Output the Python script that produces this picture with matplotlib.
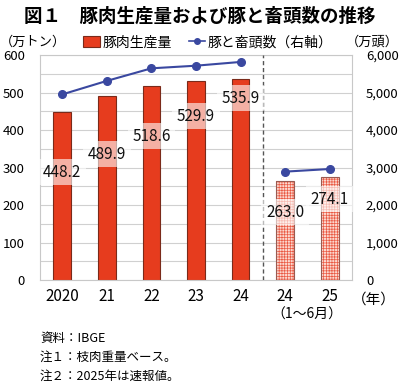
import matplotlib
matplotlib.use("Agg")
import matplotlib.pyplot as plt
import numpy as np

plt.rcParams['font.family'] = ['Noto Sans CJK JP', 'DejaVu Sans']
plt.rcParams['hatch.linewidth'] = 0.5

categories = ["2020", "21", "22", "23", "24", "24", "25"]
production = [448.2, 489.9, 518.6, 529.9, 535.9, 263.0, 274.1]
herd = [4950, 5310, 5645, 5715, 5815, 2890, 2960]
prelim = [False, False, False, False, False, True, True]
label_y = [288, 336, 384, 437, 485, 181, 216]

fig = plt.figure(figsize=(4.0, 3.86), dpi=100)
ax = fig.add_axes([0.10, 0.2746, 0.78, 0.5829])
ax2 = ax.twinx()

x = np.arange(len(categories))
bar_red = '#e63c1e'
edge_dark = '#7a2a1a'
for i in range(len(x)):
    if prelim[i]:
        ax.bar(x[i], production[i], width=0.4, color='#fcd8cf', edgecolor='#ea5a44',
               hatch='++++++', linewidth=0, zorder=2)
        ax.bar(x[i], production[i], width=0.4, fill=False, edgecolor='#9a5a50',
               linewidth=0.8, zorder=3)
    else:
        ax.bar(x[i], production[i], width=0.4, color=bar_red, edgecolor=edge_dark,
               linewidth=0.8, zorder=2)
    ax.text(x[i], label_y[i], f"{production[i]:.1f}", ha='center', va='center',
            fontsize=11, color='#111111', zorder=6,
            bbox=dict(boxstyle='square,pad=0.3', facecolor='white', edgecolor='none', alpha=0.6))

ax.set_xlim(-0.5, 6.5)
ax.set_ylim(0, 600)
ax.set_yticks(np.arange(0, 601, 100))
ax.set_yticks(np.arange(50, 600, 100), minor=True)
ax.grid(axis='y', which='both', color='#d0d0d0', linewidth=0.8, zorder=0)
ax.set_axisbelow(True)
ax.tick_params(axis='y', which='both', length=0, labelsize=9.5, pad=11)
ax.set_xticks(x)
ax.set_xticklabels(categories, fontsize=11)
ax.tick_params(axis='x', length=0, pad=6)
for s in ax.spines.values():
    s.set_color('#c8c8c8')
    s.set_linewidth(0.8)

ax.axvline(4.5, color='#555555', linestyle=(0, (3, 2)), linewidth=1.0, zorder=4)

ax2.plot(x[:5], herd[:5], color='#3a48a0', marker='o', markersize=5.5, linewidth=1.5, zorder=5)
ax2.plot(x[5:], herd[5:], color='#3a48a0', marker='o', markersize=5.5, linewidth=1.5, zorder=5)
ax2.set_ylim(0, 6000)
ax2.set_yticks(np.arange(0, 6001, 1000))
ax2.set_yticklabels([f"{v:,}" for v in range(0, 6001, 1000)])
ax2.tick_params(axis='y', length=0, labelsize=9.5, pad=10)
for s in ax2.spines.values():
    s.set_visible(False)

fig.text(0.5, 0.958, "図１　豚肉生産量および豚と畜頭数の推移", ha='center', va='center',
         fontsize=13.3, fontweight='bold')
fig.text(0.0, 0.89, "（万トン）", ha='left', va='center', fontsize=9.5)
fig.text(0.998, 0.89, "（万頭）", ha='right', va='center', fontsize=9.5)

from matplotlib.patches import Patch
from matplotlib.lines import Line2D
handles = [Patch(facecolor=bar_red, edgecolor=edge_dark, linewidth=0.8),
           Line2D([0], [0], color='#3a48a0', marker='o', markersize=4, linewidth=1.2)]
fig.legend(handles, ["豚肉生産量", "豚と畜頭数（右軸）"], loc='center', bbox_to_anchor=(0.52, 0.89),
           ncol=2, frameon=False, fontsize=10, handlelength=1.2, handletextpad=0.2,
           columnspacing=1.2, handleheight=0.8)

fig.text(0.935, 0.223, "（年）", ha='center', va='center', fontsize=10.5)
fig.text(0.768, 0.186, "（1〜6月）", ha='center', va='center', fontsize=10)

fig.text(0.1, 0.122, "資料：IBGE", ha='left', va='center', fontsize=9)
fig.text(0.1, 0.075, "注１：枝肉重量ベース。", ha='left', va='center', fontsize=9)
fig.text(0.1, 0.026, "注２：2025年は速報値。", ha='left', va='center', fontsize=9)

fig.savefig("out.png", dpi=100)
